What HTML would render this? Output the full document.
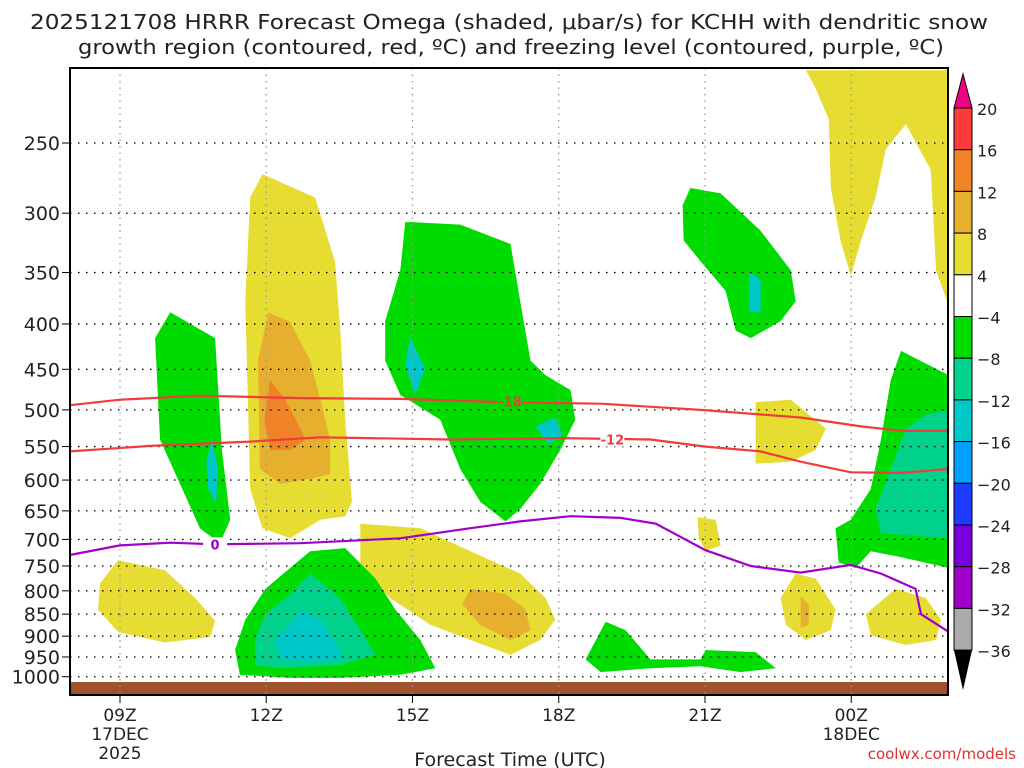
<!DOCTYPE html>
<html><head><meta charset="utf-8"><style>
html,body{margin:0;padding:0;background:#fff}
svg{display:block;font-family:"DejaVu Sans","Liberation Sans",sans-serif}
</style></head><body>
<svg id="c" width="1024" height="768" viewBox="0 0 1024 768">
<text x="30" y="29" textLength="958" lengthAdjust="spacingAndGlyphs" font-size="20" fill="#222">2025121708 HRRR Forecast Omega (shaded, μbar/s) for KCHH with dendritic snow</text>
<text x="78" y="54" textLength="866" lengthAdjust="spacingAndGlyphs" font-size="20" fill="#222">growth region (contoured, red, ºC) and freezing level (contoured, purple, ºC)</text>
<g id="fills"></g>
<rect x="70" y="682" width="878" height="13" fill="#A0522D"/>
<g id="grid"></g>
<g id="lines"></g>
<rect x="70" y="68" width="878" height="627" fill="none" stroke="#000" stroke-width="2"/>
<g id="axes"></g>
<g id="cbar"></g>
<text x="510" y="766" text-anchor="middle" font-size="19" fill="#222">Forecast Time (UTC)</text>
<text x="1016" y="759" text-anchor="end" font-size="15" fill="#e03030">coolwx.com/models</text>
</svg>
<script>
const pLevels=[250,300,350,400,450,500,550,600,650,700,750,800,850,900,950,1000];
const xTicks=[0,3,6,9,12,15];
const xTickLabels=["09Z","12Z","15Z","18Z","21Z","00Z"];
const xTickSub=["17DEC","","","","","18DEC"];
const cbarLevels=[20,16,12,8,4,-4,-8,-12,-16,-20,-24,-28,-32,-36];
const cbarColors=["#FA3C3C","#F08228","#E6AF2D","#E6DC32","#FFFFFF","#00DC00","#00D28C","#00C8C8","#00A0FF","#1E3CFF","#7800DC","#A000C8","#AAAAAA"];
const Y="#E6DC32",O1="#E6AF2D",O2="#F08228",G="#00DC00",T="#00D28C",C="#00C8C8";
const shapes=[
 [Y,[[-0.04,739],[0.92,758],[1.54,815],[1.95,865],[1.85,902],[0.92,915],[-0.04,890],[-0.45,840],[-0.41,785]]],
 [G,[[1.03,388],[1.95,415],[2.09,555],[2.26,665],[2.05,707],[1.64,680],[0.82,540],[0.72,415]]],
 [C,[[1.89,540],[2.01,583],[1.97,639],[1.81,614],[1.77,572]]],
 [Y,[[2.92,271],[4.0,288],[4.41,340],[4.52,407],[4.62,513],[4.76,635],[4.62,659],[4.11,665],[3.49,698],[2.92,680],[2.67,614],[2.57,377],[2.67,288]]],
 [O1,[[3.04,388],[3.49,398],[3.90,440],[4.11,487],[4.31,540],[4.31,591],[3.90,598],[3.29,606],[2.87,583],[2.83,440]]],
 [O2,[[3.08,463],[3.39,487],[3.70,525],[3.80,540],[3.49,555],[3.08,555],[2.96,513]]],
 [G,[[6.0,307],[6.98,309],[8.01,325],[8.21,377],[8.42,440],[8.73,457],[9.24,475],[9.34,513],[9.03,555],[8.62,606],[8.21,647],[7.91,668],[7.39,635],[6.98,583],[6.57,513],[5.75,481],[5.44,440],[5.44,397],[5.75,348],[5.85,307]]],
 [C,[[5.95,414],[6.26,449],[6.06,481],[5.85,446]]],
 [C,[[8.52,522],[8.93,510],[9.08,533],[8.79,547]]],
 [G,[[11.70,281],[12.32,285],[13.14,314],[13.76,348],[13.86,377],[13.55,397],[12.94,415],[12.63,407],[12.42,367],[11.91,340],[11.56,322],[11.54,294]]],
 [C,[[12.90,348],[13.14,357],[13.14,388],[12.90,388]]],
 [Y,[[14.07,207],[17.0,207],[17.0,382],[16.74,348],[16.63,268],[16.12,238],[15.71,254],[15.50,288],[15.20,322],[14.99,353],[14.78,322],[14.58,281],[14.54,235],[14.27,217]]],
 [G,[[16.02,429],[17.0,457],[17.0,754],[16.02,733],[15.40,722],[15.09,754],[14.74,743],[14.68,680],[14.99,665],[15.40,614],[15.61,540],[15.81,463]]],
 [T,[[17.0,500],[17.0,698],[15.61,689],[15.50,647],[15.81,583],[16.12,525],[16.53,506]]],
 [Y,[[13.04,490],[13.76,487],[14.48,525],[14.27,555],[13.76,572],[13.04,575]]],
 [Y,[[11.85,661],[12.22,665],[12.32,712],[12.01,720],[11.87,698]]],
 [Y,[[4.93,672],[6.16,680],[7.19,722],[8.21,765],[8.73,815],[8.93,862],[8.62,909],[8.01,945],[7.19,909],[6.37,874],[5.54,815],[4.93,754]]],
 [O1,[[7.19,796],[7.91,806],[8.32,840],[8.42,886],[8.01,909],[7.39,874],[7.02,828]]],
 [G,[[3.90,722],[4.62,716],[5.24,775],[5.65,840],[6.16,909],[6.47,978],[5.75,995],[4.52,1003],[3.49,1003],[2.46,995],[2.36,933],[2.57,862],[2.98,796],[3.49,754]]],
 [T,[[3.9,765],[4.52,815],[4.93,886],[5.24,945],[4.52,970],[3.29,978],[2.77,970],[2.77,909],[2.98,850],[3.49,806]]],
 [C,[[3.70,840],[4.11,862],[4.52,933],[4.52,956],[3.90,961],[3.29,956],[3.18,909],[3.49,874]]],
 [G,[[9.96,867],[10.37,886],[10.88,956],[11.91,956],[12.01,933],[13.04,938],[13.45,978],[12.73,988],[11.91,973],[10.88,978],[9.86,988],[9.55,956]]],
 [Y,[[13.86,765],[14.27,775],[14.68,840],[14.58,886],[14.07,909],[13.66,874],[13.55,815]]],
 [O1,[[13.96,811],[14.13,828],[14.13,874],[13.96,881]]],
 [Y,[[15.91,796],[16.53,815],[16.84,862],[16.74,909],[16.12,921],[15.40,898],[15.30,850]]]
];
const red18=[[-1.03,494],[0,487],[1.64,482],[3.70,485],[5.75,486],[7.80,490],[9.86,492],[11.91,500],[13.96,510],[15.20,522],[16.02,528],[17,528]];
const red12=[[-1.03,557],[0.62,549],[2.67,543],[4.11,537],[6.78,540],[9.03,538],[10.88,540],[12.01,550],[13.14,557],[13.96,572],[14.99,588],[16.02,589],[17,583]];
const purple0=[[-1.03,729],[0,711],[1.03,706],[1.95,709],[3.70,707],[5.75,698],[7.19,680],[8.21,668],[9.24,659],[10.27,662],[10.99,672],[12.01,720],[12.94,750],[13.96,763],[14.99,748],[15.61,765],[16.32,796],[16.43,850],[17,890]];
const NS="http://www.w3.org/2000/svg";
const X0=70,X1=948,Yt=68,Yb=695;
function sx(h){return 120+h*48.75;}
function sy(p){return 143+Math.log(p/250)*385;}
function mk(tag,attrs,parent){const e=document.createElementNS(NS,tag);for(const k in attrs)e.setAttribute(k,attrs[k]);parent.appendChild(e);return e;}
const fills=document.getElementById('fills'),grid=document.getElementById('grid'),lines=document.getElementById('lines'),axes=document.getElementById('axes'),cb=document.getElementById('cbar');
shapes.forEach((s,i)=>{
 const pts=s[1].map(d=>sx(d[0]).toFixed(1)+","+Math.max(Yt,sy(d[1])).toFixed(1)).join(" ");
 const e=mk('polygon',{points:pts,fill:s[0]},fills);
 
 
});
pLevels.forEach(p=>{
 const y=sy(p);
 const l=mk('line',{x1:X0,x2:X1,y1:y,y2:y,stroke:"#000","stroke-width":1.3,"stroke-dasharray":"1.5 6.5"},grid);
 
 
 mk('line',{x1:X0-8,x2:X0,y1:y,y2:y,stroke:"#000","stroke-width":1},axes);
 const t=mk('text',{x:X0-10,y:y+7,"text-anchor":"end","font-size":19,fill:"#222"},axes);
 t.textContent=p;
 
 
});
xTicks.forEach((h,i)=>{
 const x=sx(h);
 const l=mk('line',{x1:x,x2:x,y1:Yt,y2:Yb,stroke:"#999","stroke-width":1.3,"stroke-dasharray":"1.5 5"},grid);
 
 
 mk('line',{x1:x,x2:x,y1:Yb,y2:Yb+8,stroke:"#000","stroke-width":1},axes);
 const t=mk('text',{x:x,y:721,"text-anchor":"middle","font-size":17,fill:"#222"},axes);
 t.textContent=xTickLabels[i];
 
 
 if(xTickSub[i]){const s=mk('text',{x:x,y:740,"text-anchor":"middle","font-size":17,fill:"#222"},axes);s.textContent=xTickSub[i];
 
 }
});
const yr=mk('text',{x:sx(0),y:759,"text-anchor":"middle","font-size":17,fill:"#222"},axes);yr.textContent="2025";


function drawLine(data,color,name){
 const d=data.map((q,i)=>(i?"L":"M")+sx(q[0]).toFixed(1)+","+sy(q[1]).toFixed(1)).join("");
 const e=mk('path',{d:d,fill:"none",stroke:color,"stroke-width":2.2},lines);
 
 
}
drawLine(red18,"#F03C3C","contour-minus18");
drawLine(red12,"#F03C3C","contour-minus12");
drawLine(purple0,"#A000C8","freezing-level");
function label(h,p,txt,color,name,bg){
 const x=sx(h),y=sy(p);
 mk('rect',{x:x-12,y:y-7,width:24,height:14,fill:bg},lines);
 const t=mk('text',{x:x,y:y+5,"text-anchor":"middle","font-size":13,"font-weight":"bold",fill:color},lines);
 t.textContent=txt;
 
 
}
label(8.0,489,"-18","#F03C3C","label-minus18","#00DC00");
label(10.1,540,"-12","#F03C3C","label-minus12","#FFFFFF");
label(1.95,709,"0","#A000C8","label-zero","#FFFFFF");
const cbX=954,cbW=18,cbTop=108,cbStep=41.7;
mk('polygon',{points:`${cbX},${cbTop} ${cbX+cbW},${cbTop} ${cbX+cbW/2},74`,fill:"#F00082",stroke:"#000"},cb);
cbarColors.forEach((c,i)=>{
 const r=mk('rect',{x:cbX,y:cbTop+i*cbStep,width:cbW,height:cbStep,fill:c,stroke:"#000","stroke-width":1},cb);
 
 
});
const cbBot=cbTop+cbarColors.length*cbStep;
mk('polygon',{points:`${cbX},${cbBot} ${cbX+cbW},${cbBot} ${cbX+cbW/2},${cbBot+40}`,fill:"#000"},cb);
cbarLevels.forEach((v,i)=>{
 const t=mk('text',{x:977,y:cbTop+i*cbStep+7,"font-size":16,fill:"#222"},cb);
 t.textContent=v<0?"\u2212"+(-v):String(v);
 
 
});
</script>
</body></html>
